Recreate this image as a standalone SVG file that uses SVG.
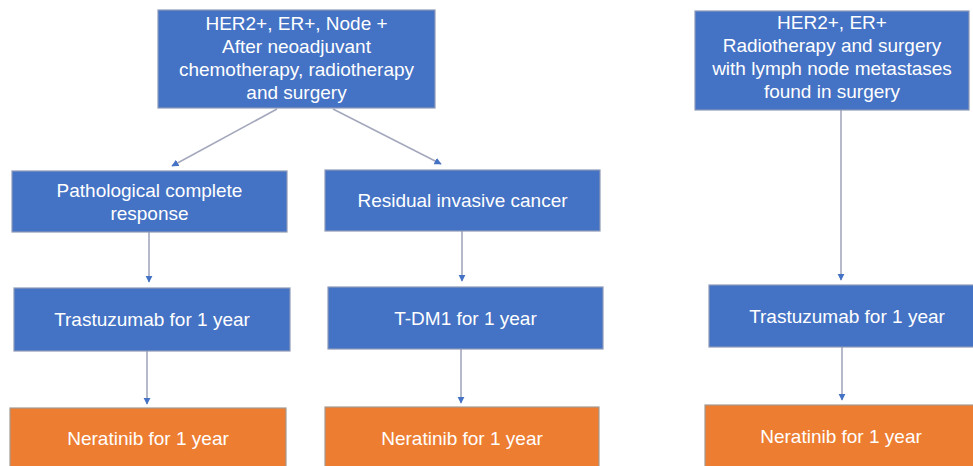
<svg xmlns="http://www.w3.org/2000/svg" width="973" height="466" viewBox="0 0 973 466">
<style>
.b{fill:#4472C4;stroke:#8C9AB8;stroke-width:1.2}
.o{fill:#ED7D31;stroke:#A59A92;stroke-width:1.2}
text{font-family:"Liberation Sans",Arial,sans-serif;font-size:19px;fill:#FFFFFF;text-anchor:middle}
.c{stroke:#A4A8BC;stroke-width:1.6;fill:none;marker-end:url(#ah)}
</style>
<defs>
<marker id="ah" viewBox="0 0 10 10" refX="9" refY="5" markerWidth="4.5" markerHeight="4.5" orient="auto" markerUnits="strokeWidth">
<path d="M0,0 L10,5 L0,10 Z" fill="#4472C4"/>
</marker>
</defs>
<rect width="973" height="466" fill="#FFFFFF"/>
<g id="connectors">
<line class="c" x1="277" y1="109" x2="172" y2="166"/>
<line class="c" x1="333" y1="109" x2="441" y2="164"/>
<line class="c" x1="149" y1="232" x2="149" y2="282"/>
<line class="c" x1="462" y1="231" x2="462" y2="281"/>
<line class="c" x1="147" y1="351" x2="147" y2="404"/>
<line class="c" x1="461" y1="349" x2="461" y2="403"/>
<line class="c" x1="841" y1="110" x2="841" y2="280"/>
<line class="c" x1="842" y1="347" x2="842" y2="400"/>
</g>
<g id="n1">
<rect class="b" x="158" y="10" width="277" height="98"/>
<text x="296.5" y="30">HER2+, ER+, Node +</text>
<text x="296.5" y="53">After neoadjuvant</text>
<text x="296.5" y="76">chemotherapy, radiotherapy</text>
<text x="296.5" y="99">and surgery</text>
</g>
<g id="n2">
<rect class="b" x="695" y="11" width="274" height="99"/>
<text x="832" y="29">HER2+, ER+</text>
<text x="832" y="52">Radiotherapy and surgery</text>
<text x="832" y="75">with lymph node metastases</text>
<text x="832" y="98">found in surgery</text>
</g>
<g id="n3">
<rect class="b" x="12" y="171" width="275" height="61"/>
<text x="149.5" y="197">Pathological complete</text>
<text x="149.5" y="220">response</text>
</g>
<g id="n4">
<rect class="b" x="325" y="170" width="275" height="61"/>
<text x="462.5" y="207">Residual invasive cancer</text>
</g>
<g id="n5">
<rect class="b" x="14" y="288" width="276" height="63"/>
<text x="152" y="326">Trastuzumab for 1 year</text>
</g>
<g id="n6">
<rect class="b" x="328" y="287" width="275" height="62"/>
<text x="465.5" y="325">T-DM1 for 1 year</text>
</g>
<g id="n7">
<rect class="b" x="709" y="285" width="276" height="62"/>
<text x="847" y="323">Trastuzumab for 1 year</text>
</g>
<g id="n8">
<rect class="o" x="10" y="408" width="276" height="62"/>
<text x="148" y="445">Neratinib for 1 year</text>
</g>
<g id="n9">
<rect class="o" x="325" y="407" width="274" height="63"/>
<text x="462" y="445">Neratinib for 1 year</text>
</g>
<g id="n10">
<rect class="o" x="705" y="405" width="272" height="65"/>
<text x="841" y="443">Neratinib for 1 year</text>
</g>
</svg>
